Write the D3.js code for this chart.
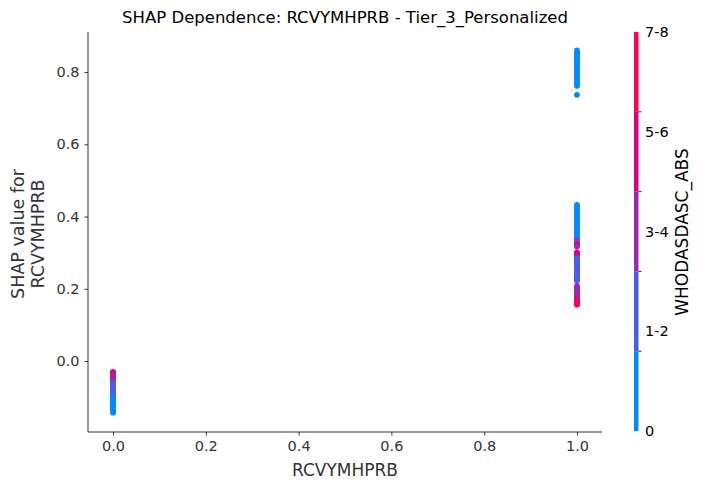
<!DOCTYPE html>
<html><head><meta charset="utf-8">
<script src="https://cdn.jsdelivr.net/npm/d3@7"></script>
<style>body{margin:0;background:#fff}text{font-family:"DejaVu Sans",sans-serif}</style>
</head><body><svg id="c" width="702" height="490"></svg>
<script>
// ---- data ----
const title = "SHAP Dependence: RCVYMHPRB - Tier_3_Personalized";
const xLabel = "RCVYMHPRB";
const yLabelLines = ["SHAP value for", "RCVYMHPRB"];
const colorLabel = "WHODASDASC_ABS";
const colorCategories = ["0", "1-2", "3-4", "5-6", "7-8"];
const colorHex = ["#008bfb", "#4b5fe3", "#9b27b2", "#d7007f", "#ff0052"];
const xTicks = [0.0, 0.2, 0.4, 0.6, 0.8, 1.0];
const yTicks = [0.0, 0.2, 0.4, 0.6, 0.8];

// feature value 0 group: SHAP values and colour category index
const shapAtZero = [-0.030,-0.032,-0.033,-0.034,-0.036,-0.037,-0.038,
  -0.040,-0.043,-0.046,-0.049,-0.052,-0.055,-0.058,
  -0.061,-0.064,-0.067,-0.070,-0.073,-0.076,-0.079,-0.082,-0.085,-0.088,-0.091,-0.094,-0.097,
  -0.100,-0.103,-0.106,-0.109,-0.112,-0.115,-0.118,-0.121,-0.124,-0.127,-0.130,-0.133,-0.136,-0.139,-0.143];
const catAtZero = [4,4,3,4,4,3,4,
  2,2,2,2,2,2,2,
  1,1,1,1,1,1,1,1,1,1,1,1,1,
  0,0,0,0,0,0,0,0,0,0,0,0,0,0,0];

// feature value 1 group (mixed points listed first so they sit underneath)
const shapAtOne = [0.400,0.380,0.360,0.245,0.190,0.166,
  0.860,0.857,0.853,0.849,0.845,0.840,0.835,0.830,0.826,0.821,0.816,0.811,0.806,0.800,0.795,0.790,0.785,0.780,0.775,0.770,0.765,0.762,0.737,
  0.432,0.427,0.422,0.417,0.412,0.407,0.402,0.397,0.392,0.387,0.382,0.377,0.372,0.367,0.362,0.357,0.352,0.347,0.342,
  0.337,0.332,0.328,0.325,0.321,0.317,
  0.301,0.298,0.294,0.290,
  0.285,0.281,0.277,0.273,0.269,0.265,0.261,0.257,0.253,0.249,0.245,0.241,0.237,0.233,0.229,0.225,0.222,
  0.208,0.204,0.200,0.196,0.192,0.188,0.184,0.180,0.176,0.172,
  0.168,0.164,0.160,0.156];
const catAtOne = [1,1,1,3,3,3,
  0,0,0,0,0,0,0,0,0,0,0,0,0,0,0,0,0,0,0,0,0,0,0,
  0,0,0,0,0,0,0,0,0,0,0,0,0,0,0,0,0,0,0,
  1,2,1,2,3,2,
  3,3,3,3,
  1,1,1,1,1,1,1,1,1,1,1,1,1,1,1,1,1,
  2,2,2,2,2,2,2,2,2,2,
  4,4,4,4];

// ---- drawing ----
const svg = d3.select("#c");
const L = 88, R = 602, T = 32, B = 432;
const x = d3.scaleLinear().domain([-0.0539, 1.0539]).range([L, R]);
const y = d3.scaleLinear().domain([-0.1965, 0.911]).range([B, T]);
const col = d3.scaleOrdinal().domain(d3.range(5)).range(colorHex);

const pts = [];
shapAtZero.forEach((v, i) => pts.push({fx: 0, v, c: catAtZero[i]}));
shapAtOne.forEach((v, i) => pts.push({fx: 1, v, c: catAtOne[i]}));

svg.append("g").selectAll("circle").data(pts).join("circle")
  .attr("cx", d => x(d.fx)).attr("cy", d => y(d.v)).attr("r", 2.9)
  .attr("fill", d => col(d.c));

const gx = svg.append("g").attr("transform", `translate(0,${B})`)
  .call(d3.axisBottom(x).tickValues(xTicks).tickFormat(d3.format(".1f")).tickSizeOuter(0).tickSize(3.5).tickPadding(5));
const gy = svg.append("g").attr("transform", `translate(${L},0)`)
  .call(d3.axisLeft(y).tickValues(yTicks).tickFormat(d3.format(".1f")).tickSizeOuter(0).tickSize(3.5).tickPadding(5));
[gx, gy].forEach(g => {
  g.select(".domain").attr("stroke", "#333").attr("stroke-width", 1);
  g.selectAll(".tick line").attr("stroke", "#333");
  g.selectAll(".tick text").attr("fill", "#333").style("font-size", "14.5px");
});
gx.select(".domain").attr("d", `M${L},0H${R}`);
gy.select(".domain").attr("d", `M0,${T}V${B}`);

svg.append("text").attr("x", 345).attr("y", 476).attr("text-anchor", "middle")
  .attr("fill", "#333").style("font-size", "17px").text(xLabel);
const yl = svg.append("text").attr("transform", "translate(0,234) rotate(-90)")
  .attr("text-anchor", "middle").attr("fill", "#333").style("font-size", "17.5px");
yl.append("tspan").attr("x", 0).attr("y", 24).text(yLabelLines[0]);
yl.append("tspan").attr("x", 0).attr("y", 44).text(yLabelLines[1]);

svg.append("text").attr("x", 345).attr("y", 23).attr("text-anchor", "middle")
  .attr("fill", "#000").style("font-size", "16.5px").text(title);

// colour bar
const cbX = 634, cbW = 4.5, cbT = 32, cbB = 431;
const cb = d3.scaleLinear().domain([0, 8]).range([cbB, cbT]);
const bandEdges = d3.range(6).map(i => i * 8 / 5);
svg.append("g").selectAll("rect").data(d3.range(5)).join("rect")
  .attr("x", cbX).attr("width", cbW)
  .attr("y", i => cb(bandEdges[i + 1])).attr("height", i => cb(bandEdges[i]) - cb(bandEdges[i + 1]))
  .attr("fill", i => colorHex[i]);
svg.append("g").selectAll("line").data(bandEdges.slice(1, 5)).join("line")
  .attr("x1", cbX + cbW).attr("x2", cbX + cbW + 3)
  .attr("y1", d => cb(d)).attr("y2", d => cb(d)).attr("stroke", "#333");
svg.append("g").selectAll("text").data(colorCategories).join("text")
  .attr("x", 645).attr("y", (d, i) => cb(i * 2)).attr("dy", "0.35em")
  .attr("fill", "#000").style("font-size", "14.5px").text(d => d);
svg.append("text").attr("transform", "translate(688,232) rotate(-90)")
  .attr("text-anchor", "middle").attr("fill", "#000").style("font-size", "17px").text(colorLabel);
</script></body></html>
